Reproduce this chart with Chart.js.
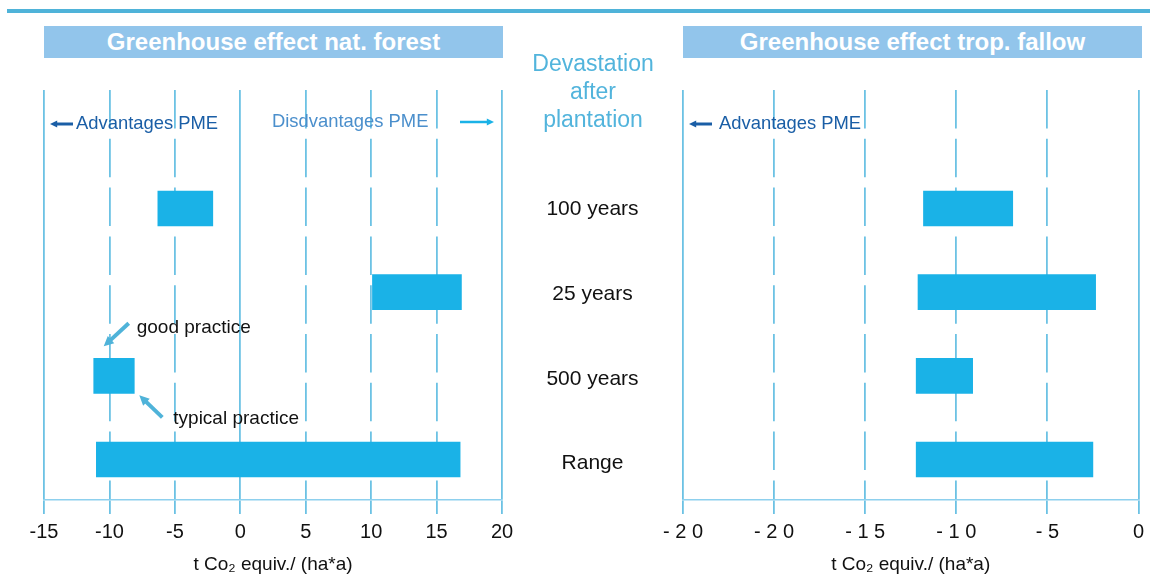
<!DOCTYPE html>
<html lang="en">
  <head>
    <meta charset="UTF-8" />
    <title>Greenhouse effect</title>
    <style>
      body {
        margin: 0;
        padding: 0;
        width: 1150px;
        height: 586px;
        position: relative;
        overflow: hidden;
        background: #fff;
        font-family: "Liberation Sans", Arial, Helvetica, sans-serif;
      }
      .topline {
        position: absolute;
        left: 7px;
        top: 9px;
        width: 1143px;
        height: 4px;
        background: #4fb3d9;
      }
      .title-box {
        position: absolute;
        top: 26px;
        height: 32px;
        line-height: 32px;
        width: 459px;
        background: #92c5eb;
        color: #fff;
        font-weight: bold;
        font-size: 24px;
        text-align: center;
      }
      .middle {
        position: absolute;
        left: 493px;
        top: 49px;
        width: 200px;
        text-align: center;
        font-size: 23px;
        line-height: 28px;
        color: #52b4dc;
      }
      #forestChart {
        position: absolute;
        left: 0;
        top: 0;
      }
      #fallowChart {
        position: absolute;
        left: 640px;
        top: 0;
      }
    </style>
  </head>
  <body>
    <div class="topline"></div>
    <canvas id="forestChart" width="640" height="586"></canvas>
    <canvas id="fallowChart" width="510" height="586"></canvas>
    <div class="title-box" style="left: 44px">Greenhouse effect nat. forest</div>
    <div class="title-box" style="left: 683px">Greenhouse effect trop. fallow</div>
    <div class="middle">Devastation<br />after<br />plantation</div>

    <script src="https://cdn.jsdelivr.net/npm/chart.js"></script>
    <script>
      const categories = ["100 years", "25 years", "500 years", "Range"];

      const forestLow = [-6.3, 10.1, -11.2, -11.0];
      const forestHigh = [-2.1, 16.9, -8.1, 16.8];

      const fallowLow = [-11.8, -12.1, -12.2, -12.2];
      const fallowHigh = [-6.9, -2.35, -9.1, -2.5];

      const fallowTickLabels = ["- 2 0", "- 2 0", "- 1 5", "- 1 0", "- 5", "0"];

      const axisTitle = "t Co\u2082 equiv./ (ha*a)";

      Chart.defaults.font.family = '"Liberation Sans", Arial, Helvetica, sans-serif';
      Chart.defaults.color = "#111";

      const barColor = "#1ab2e7";
      const gridColor = "#6cc2e4";
      const dash = [38.5, 10.3];

      function toPoints(lo, hi) {
        return categories.map((c, i) => ({ y: i, x: [lo[i], hi[i]] }));
      }

      function arrow(ctx, x1, y1, x2, y2, color, width, head) {
        const a = Math.atan2(y2 - y1, x2 - x1);
        ctx.save();
        ctx.strokeStyle = color;
        ctx.fillStyle = color;
        ctx.lineWidth = width;
        ctx.beginPath();
        ctx.moveTo(x1, y1);
        ctx.lineTo(x2 - Math.cos(a) * head * 0.7, y2 - Math.sin(a) * head * 0.7);
        ctx.stroke();
        ctx.beginPath();
        ctx.moveTo(x2, y2);
        ctx.lineTo(x2 - head * Math.cos(a - 0.45), y2 - head * Math.sin(a - 0.45));
        ctx.lineTo(x2 - head * Math.cos(a + 0.45), y2 - head * Math.sin(a + 0.45));
        ctx.closePath();
        ctx.fill();
        ctx.restore();
      }

      function advantagesLabel(chart, textGap) {
        const { ctx, chartArea } = chart;
        arrow(ctx, chartArea.left + 29, 124, chartArea.left + 6, 124, "#1a5ea6", 3, 8);
        ctx.save();
        ctx.font = '18.4px "Liberation Sans", Arial, sans-serif';
        ctx.fillStyle = "#1a5ea6";
        ctx.textBaseline = "middle";
        ctx.fillText("Advantages PME", chartArea.left + textGap, 124);
        ctx.restore();
      }

      function xScale(min, max, solidAt, tickCallback) {
        return {
          type: "linear",
          min: min,
          max: max,
          afterFit: (scale) => {
            scale.height = 86;
          },
          ticks: {
            stepSize: 5,
            padding: 6,
            color: "#111",
            font: { size: 20 },
            callback: tickCallback,
          },
          grid: {
            color: gridColor,
            lineWidth: 1.8,
            tickLength: 14,
            tickColor: gridColor,
          },
          border: {
            display: true,
            color: "#8dd0ee",
            width: 1.5,
            dash: (ctx) =>
              ctx.tick && solidAt.includes(ctx.tick.value) ? [] : dash,
          },
          title: {
            display: true,
            text: axisTitle,
            color: "#111",
            font: { size: 19 },
            padding: { top: 0, bottom: 9.6 },
          },
        };
      }

      const yScale = {
        type: "linear",
        reverse: true,
        min: -1.416,
        max: 3.484,
        offset: false,
        display: false,
      };

      const forestExtras = {
        id: "forestExtras",
        afterDraw(chart) {
          const { ctx, chartArea } = chart;
          const y = chart.scales.y;

          // category names between the two panels
          ctx.save();
          ctx.font = '21px "Liberation Sans", Arial, sans-serif';
          ctx.fillStyle = "#111";
          ctx.textAlign = "center";
          ctx.textBaseline = "middle";
          categories.forEach((c, i) => {
            ctx.fillText(c, 592.5, y.getPixelForValue(i) + 1 + i);
          });
          ctx.restore();

          advantagesLabel(chart, 32);

          ctx.save();
          ctx.font = '18.4px "Liberation Sans", Arial, sans-serif';
          ctx.fillStyle = "#4b8fcc";
          ctx.textBaseline = "middle";
          ctx.fillText("Disdvantages PME", chartArea.right - 230, 122);
          ctx.restore();
          arrow(ctx, chartArea.right - 42, 122, chartArea.right - 8, 122, barColor, 2.5, 8);

          // good / typical practice notes on the 500 years bar
          const bar = chart.getDatasetMeta(0).data[2];
          const left = Math.min(bar.x, bar.base);
          const right = Math.max(bar.x, bar.base);
          const top = bar.y - bar.height / 2;
          const bottom = bar.y + bar.height / 2;
          arrow(ctx, left + 35, top - 35, left + 10, top - 12, "#4fb3d9", 4, 11);
          arrow(ctx, right + 28, bottom + 24, right + 5, bottom + 2, "#4fb3d9", 4, 11);
          ctx.save();
          ctx.font = '19px "Liberation Sans", Arial, sans-serif';
          ctx.fillStyle = "#111";
          ctx.textBaseline = "middle";
          ctx.fillText("good practice", left + 43, top - 31);
          ctx.fillText("typical practice", right + 39, bottom + 25);
          ctx.restore();
        },
      };

      const fallowExtras = {
        id: "fallowExtras",
        afterDraw(chart) {
          advantagesLabel(chart, 36);
        },
      };

      new Chart(document.getElementById("forestChart"), {
        type: "bar",
        data: {
          datasets: [
            {
              data: toPoints(forestLow, forestHigh),
              backgroundColor: barColor,
              barThickness: 35,
            },
          ],
        },
        options: {
          indexAxis: "y",
          responsive: false,
          animation: false,
          layout: { padding: { top: 90, left: 44, right: 138, bottom: 0 } },
          scales: {
            x: xScale(-15, 20, [-15, 0, 20]),
            y: yScale,
          },
          plugins: {
            legend: { display: false },
            tooltip: { enabled: false },
          },
        },
        plugins: [forestExtras],
      });

      new Chart(document.getElementById("fallowChart"), {
        type: "bar",
        data: {
          datasets: [
            {
              data: toPoints(fallowLow, fallowHigh),
              backgroundColor: barColor,
              barThickness: 35,
            },
          ],
        },
        options: {
          indexAxis: "y",
          responsive: false,
          animation: false,
          layout: { padding: { top: 90, left: 43, right: 9, bottom: 0 } },
          scales: {
            x: xScale(-25, 0, [-25, 0], (v, i) => fallowTickLabels[i]),
            y: yScale,
          },
          plugins: {
            legend: { display: false },
            tooltip: { enabled: false },
          },
        },
        plugins: [fallowExtras],
      });
    </script>
  </body>
</html>
